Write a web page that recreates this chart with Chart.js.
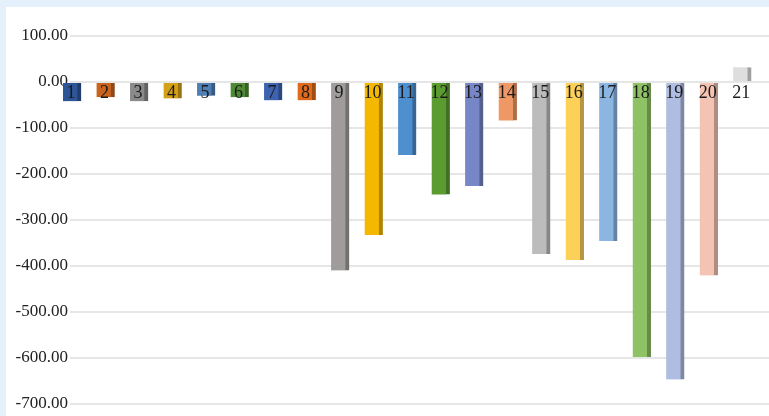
<!DOCTYPE html>
<html>
<head>
<meta charset="utf-8">
<script src="https://cdn.jsdelivr.net/npm/chart.js@4.4.1/dist/chart.umd.min.js"></script>
<style>
  html, body { margin: 0; padding: 0; }
  body { width: 769px; height: 416px; background: #e4f0fb; position: relative; overflow: hidden; }
  #box { position: absolute; left: 6px; top: 7px; width: 763px; height: 409px; background: #fff; }
</style>
</head>
<body>
<div id="box"><canvas id="chart"></canvas></div>
<script>
// categories and values
const categories = ['1','2','3','4','5','6','7','8','9','10','11','12','13','14','15','16','17','18','19','20','21'];
const values = [-42, -33, -42, -36, -30, -33, -40, -40, -410, -333, -159, -245, -226, -84, -374, -387, -346, -598, -647, -421, 32];
const yTicks = [100, 0, -100, -200, -300, -400, -500, -600, -700];

const barColors = [
  '#2e5597', '#c8641e', '#8a8a8a', '#d4a017', '#4f7fb5', '#4e8a34', '#3d62b0',
  '#e06a1a', '#a09c9c', '#f5b800', '#4d8fcf', '#5b9c30', '#7686c6', '#f09865',
  '#bcbcbc', '#fdd157', '#8cb6e2', '#8fc165', '#b0bde2', '#f4c3b3', '#dedede'
];

// darker tone for the side face of each bar
function shade(hex, f) {
  const n = parseInt(hex.slice(1), 16);
  const r = Math.round(((n >> 16) & 255) * f);
  const g = Math.round(((n >> 8) & 255) * f);
  const b = Math.round((n & 255) * f);
  return `rgb(${r},${g},${b})`;
}

const SERIF = '"Liberation Serif", "Times New Roman", serif';

// category numbers written just under the zero line
const categoryLabels = {
  id: 'categoryLabels',
  afterDatasetsDraw(chart) {
    const { ctx, scales: { x, y } } = chart;
    const y0 = y.getPixelForValue(0);
    ctx.save();
    ctx.font = '18px ' + SERIF;
    ctx.fillStyle = '#1a1a1a';
    ctx.textAlign = 'center';
    ctx.textBaseline = 'middle';
    categories.forEach((c) => {
      ctx.fillText(c, x.getPixelForValue(Number(c)) - 1, y0 + 11);
    });
    ctx.restore();
  }
};

new Chart(document.getElementById('chart').getContext('2d'), {
  type: 'bar',
  data: {
    datasets: [{
      data: categories.map((c, i) => ({ x: Number(c), y: values[i] })),
      backgroundColor: barColors,
      borderColor: barColors.map(c => shade(c, 0.72)),
      borderWidth: { right: 4, left: 0, top: 0, bottom: 0 },
      borderSkipped: false,
      barThickness: 18,
      clip: false,
    }],
  },
  options: {
    responsive: true,
    maintainAspectRatio: false,
    animation: false,
    layout: { padding: { left: 2, top: 29, right: 0, bottom: 10 } },
    plugins: { legend: { display: false }, tooltip: { enabled: false } },
    scales: {
      x: {
        type: 'linear',
        offset: false,
        min: 0.94,
        max: 21.8,
        display: false,
      },
      y: {
        min: -700,
        max: 100,
        afterBuildTicks(scale) { scale.ticks = yTicks.map(v => ({ value: v })); },
        afterFit(scale) { scale.width = 62; },
        border: { display: false },
        grid: { color: '#e6e6e6', lineWidth: 2, drawTicks: false },
        ticks: {
          padding: 2,
          color: '#222',
          font: { size: 17, family: SERIF },
          callback: v => v.toFixed(2),
        },
      },
    },
  },
  plugins: [categoryLabels],
});
</script>
</body>
</html>
